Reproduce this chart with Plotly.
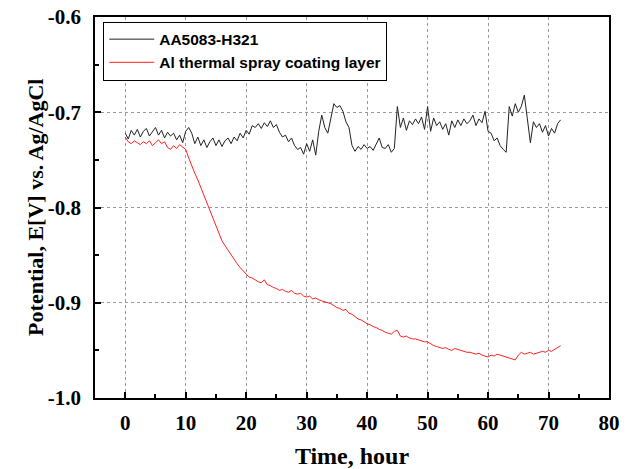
import plotly.graph_objects as go

time_h = [0, 0.5, 1, 1.5, 2, 2.5, 3, 3.5, 4, 4.5, 5, 5.5, 6, 6.5, 7, 7.5, 8, 8.5, 9, 9.5,
          10, 10.5, 11, 11.5, 12, 12.5, 13, 13.5, 14, 14.5, 15, 15.5, 16, 16.5, 17, 17.5, 18, 18.5, 19, 19.5,
          20, 20.5, 21, 21.5, 22, 22.5, 23, 23.5, 24, 24.5, 25, 25.5, 26, 26.5, 27, 27.5, 28, 28.5, 29, 29.5,
          30, 30.5, 31, 31.5, 32, 32.5, 33, 33.5, 34, 34.5, 35, 35.5, 36, 36.5, 37, 37.5, 38, 38.5, 39, 39.5,
          40, 40.5, 41, 41.5, 42, 42.5, 43, 43.5, 44, 44.5, 45, 45.5, 46, 46.5, 47, 47.5, 48, 48.5, 49, 49.5,
          50, 50.5, 51, 51.5, 52, 52.5, 53, 53.5, 54, 54.5, 55, 55.5, 56, 56.5, 57, 57.5, 58, 58.5, 59, 59.5,
          60, 60.5, 61, 61.5, 62, 62.5, 63, 63.5, 64, 64.5, 65, 65.5, 66, 66.5, 67, 67.5, 68, 68.5, 69, 69.5,
          70, 70.5, 71, 71.5, 72]

aa5083 = [-0.722, -0.728, -0.719, -0.724, -0.718, -0.726, -0.720, -0.717, -0.725, -0.720,
          -0.716, -0.724, -0.719, -0.727, -0.721, -0.725, -0.722, -0.729, -0.724, -0.732,
          -0.720, -0.716, -0.722, -0.733, -0.726, -0.735, -0.729, -0.737, -0.731, -0.727,
          -0.735, -0.729, -0.736, -0.730, -0.727, -0.733, -0.726, -0.730, -0.722, -0.727,
          -0.719, -0.723, -0.714, -0.716, -0.712, -0.717, -0.711, -0.715, -0.709, -0.716,
          -0.713, -0.721, -0.726, -0.724, -0.731, -0.727, -0.735, -0.739, -0.737, -0.744,
          -0.733, -0.741, -0.729, -0.745, -0.720, -0.703, -0.716, -0.722, -0.708, -0.691,
          -0.695, -0.693, -0.699, -0.710, -0.716, -0.735, -0.741, -0.736, -0.739, -0.734,
          -0.738, -0.736, -0.740, -0.733, -0.727, -0.737, -0.738, -0.734, -0.742, -0.738,
          -0.694, -0.716, -0.706, -0.719, -0.709, -0.713, -0.707, -0.712, -0.705, -0.718,
          -0.694, -0.720, -0.706, -0.714, -0.710, -0.718, -0.712, -0.724, -0.709, -0.716,
          -0.708, -0.714, -0.707, -0.712, -0.709, -0.703, -0.714, -0.707, -0.711, -0.699,
          -0.720, -0.722, -0.730, -0.727, -0.735, -0.739, -0.742, -0.694, -0.704, -0.691,
          -0.700, -0.694, -0.682, -0.707, -0.732, -0.710, -0.716, -0.712, -0.721, -0.714,
          -0.725, -0.717, -0.722, -0.712, -0.708]

al_coating = [-0.726, -0.731, -0.733, -0.730, -0.732, -0.734, -0.731, -0.733, -0.730, -0.735,
              -0.732, -0.729, -0.733, -0.731, -0.737, -0.739, -0.735, -0.738, -0.734, -0.737,
              -0.739, -0.748, -0.757, -0.764, -0.771, -0.779, -0.788, -0.797, -0.805, -0.812,
              -0.821, -0.828, -0.835, -0.840, -0.845, -0.850, -0.855, -0.859, -0.863, -0.867,
              -0.870, -0.873, -0.874, -0.876, -0.878, -0.879, -0.876, -0.881, -0.882, -0.884,
              -0.885, -0.887, -0.886, -0.888, -0.889, -0.887, -0.890, -0.891, -0.890, -0.893,
              -0.894, -0.893, -0.896, -0.895, -0.897, -0.898, -0.899, -0.900, -0.901, -0.903,
              -0.905, -0.906, -0.908, -0.907, -0.911, -0.912, -0.915, -0.917, -0.918, -0.920,
              -0.922, -0.923, -0.925, -0.926, -0.928, -0.929, -0.931, -0.932, -0.933, -0.930,
              -0.929, -0.935, -0.936, -0.935, -0.937, -0.938, -0.938, -0.939, -0.940, -0.941,
              -0.941, -0.943, -0.945, -0.946, -0.947, -0.948, -0.947, -0.949, -0.950, -0.948,
              -0.949, -0.950, -0.951, -0.952, -0.952, -0.953, -0.954, -0.953, -0.955, -0.956,
              -0.957, -0.955, -0.956, -0.954, -0.955, -0.956, -0.957, -0.958, -0.959, -0.960,
              -0.955, -0.952, -0.954, -0.953, -0.952, -0.954, -0.953, -0.952, -0.951, -0.952,
              -0.950, -0.951, -0.949, -0.947, -0.945]

series_names = ["AA5083-H321", "Al thermal spray coating layer"]
x_ticks = [0, 10, 20, 30, 40, 50, 60, 70, 80]
y_ticks = [-1.0, -0.9, -0.8, -0.7, -0.6]
x_title = "Time, hour"
y_title = "Potential, E[V] vs. Ag/AgCl"

fig = go.Figure()
fig.add_trace(go.Scatter(x=time_h, y=aa5083, mode="lines", name=series_names[0],
                         line=dict(color="#222222", width=1)))
fig.add_trace(go.Scatter(x=time_h, y=al_coating, mode="lines", name=series_names[1],
                         line=dict(color="#ff2020", width=1)))

serif = "Liberation Serif, Times New Roman, serif"
axis_common = dict(
    showline=True, linecolor="black", linewidth=1.5, mirror=True,
    ticks="inside", ticklen=6, tickwidth=1.5, tickcolor="black",
    showgrid=True, gridcolor="#9a9a9a", griddash="dot", gridwidth=1,
    zeroline=False, automargin=False,
    tickfont=dict(family=serif, size=21, color="black", weight="bold"),
)

fig.update_xaxes(
    range=[-5, 80], tickvals=x_ticks, ticktext=[str(v) for v in x_ticks],
    minor=dict(dtick=5, tick0=0, ticks="inside", ticklen=4, tickcolor="black", showgrid=False),
    title=dict(text=f"<b>{x_title}</b>", font=dict(family=serif, size=24, color="black"), standoff=16),
    ticklabelstandoff=5,
    **axis_common,
)
fig.update_yaxes(
    range=[-1.0, -0.6], tickvals=y_ticks, ticktext=[f"{v:.1f}" for v in y_ticks],
    minor=dict(dtick=0.05, tick0=-1.0, ticks="inside", ticklen=4, tickcolor="black", showgrid=False),
    ticklabelstandoff=8,
    **axis_common,
)

fig.add_annotation(
    text=f"<b>{y_title}</b>", textangle=-90,
    xref="paper", yref="paper", x=-0.116, y=0.5, xanchor="center", yanchor="middle",
    showarrow=False, font=dict(family=serif, size=22, color="black"),
)

fig.update_layout(
    width=635, height=469,
    margin=dict(l=95, r=26, t=17, b=71),
    plot_bgcolor="white", paper_bgcolor="white",
    showlegend=True,
    legend=dict(
        x=0.016, y=0.988, xanchor="left", yanchor="top",
        bgcolor="white", bordercolor="black", borderwidth=1,
        font=dict(family="Liberation Sans, Arial, sans-serif", size=15.5, color="black", weight="bold"),
        tracegroupgap=0, itemwidth=45,
    ),
)

fig.write_html(
    "out.html",
    config={"displayModeBar": False},
    post_script="document.body.style.margin='0';document.body.style.overflow='hidden';",
)
